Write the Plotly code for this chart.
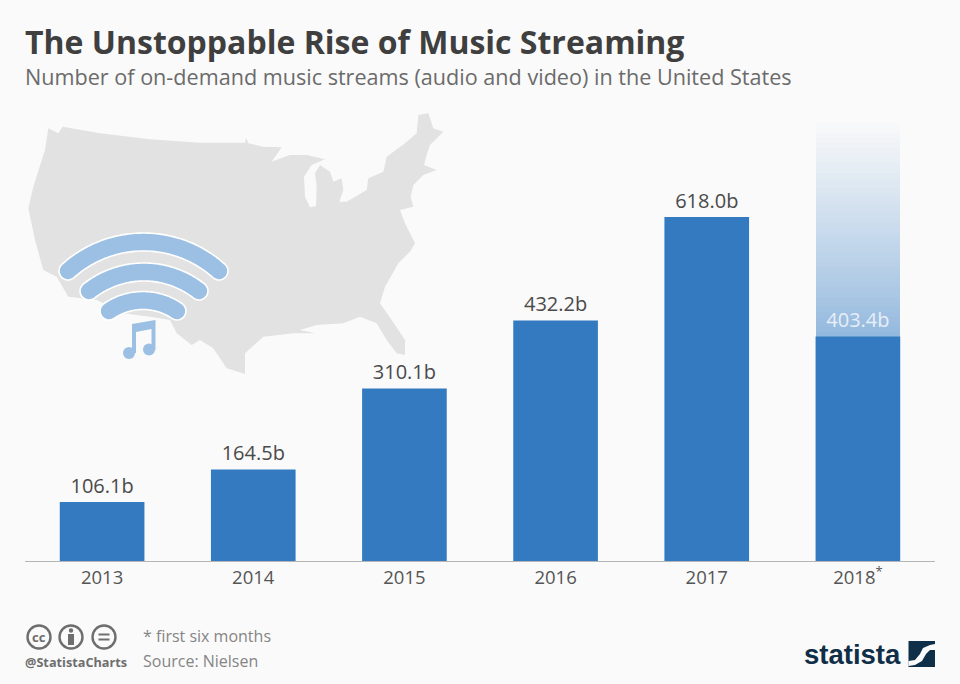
import numpy as np
import plotly.graph_objects as go

# ---- data ----
years = ["2013", "2014", "2015", "2016", "2017", "2018"]
tick_labels = ["2013", "2014", "2015", "2016", "2017", "2018<sup>*</sup>"]
streams = [106.1, 164.5, 310.1, 432.2, 618.0, 403.4]
value_labels = ["106.1b", "164.5b", "310.1b", "432.2b", "618.0b", "403.4b"]

# ---- decorative outlines, in 3x crop coordinates of the top-left panel ----
map_outline = [
    (145,85),(175,100),(188,80),(300,100),(450,118),(600,128),(735,128),(738,113),(745,130),(790,140),
    (845,142),(815,185),(835,178),(870,165),(920,165),(975,178),(935,195),(912,230),(915,290),(930,322),(948,318),
    (950,260),(945,220),(960,195),(990,215),(1000,245),(1025,235),(1030,270),(1018,305),(1040,305),(1100,270),
    (1105,235),(1150,215),(1160,170),(1215,130),(1250,100),(1255,45),(1285,40),(1300,85),(1330,95),(1290,135),
    (1280,165),(1272,195),(1310,210),(1270,225),(1240,255),(1232,290),(1240,320),(1200,330),(1215,370),(1225,390),
    (1245,430),(1230,455),(1195,490),(1155,560),(1140,610),(1175,660),(1215,720),(1215,765),(1190,760),(1160,720),
    (1130,670),(1080,650),(1030,670),(950,675),(900,690),(945,700),(880,700),(790,710),(735,760),(735,822),
    (680,805),(640,745),(600,720),(575,735),(530,700),(510,660),(450,650),(370,640),(290,600),(205,590),
    (170,530),(130,510),(105,420),(85,325),(100,260),(135,150),
]

W, H = 960, 684
def px(x): return x / W
def py(y): return 1 - y / H
def zoom_pt(p): return (p[0] / 3, 100 + p[1] / 3)

def poly_path(points):
    return "M " + " L ".join(f"{px(x):.5f},{py(y):.5f}" for x, y in points) + " Z"

def pix_rect(x0, y0, x1, y1, color, **kw):
    return dict(type="rect", xref="paper", yref="paper", x0=px(x0), x1=px(x1), y0=py(y0), y1=py(y1),
                fillcolor=color, line_width=0, layer="below", **kw)

def pix_circle(cx, cy, r, fill, line_color=None, line_width=0):
    return dict(type="circle", xref="paper", yref="paper", x0=px(cx-r), x1=px(cx+r), y0=py(cy-r), y1=py(cy+r),
                fillcolor=fill, line=dict(color=line_color or fill, width=line_width), layer="below")

def arc_poly(x_left, x_right, y_end, y_top, thick):
    """Band around a circular arc with round ends, in pixels."""
    cx = (x_left + x_right) / 2
    half = (x_right - x_left) / 2
    sag = y_end - y_top
    R = (half**2 + sag**2) / (2 * sag)
    cy = y_top + R
    a = np.arcsin(half / R)
    t = np.linspace(-a, a, 60)
    r1, r2 = R + thick / 2, R - thick / 2
    outer = [(cx + r1*np.sin(v), cy - r1*np.cos(v)) for v in t]
    inner = [(cx + r2*np.sin(v), cy - r2*np.cos(v)) for v in t[::-1]]
    endR = [(x_right + thick/2*np.sin(a + b), y_end - thick/2*np.cos(a + b)) for b in np.linspace(0, np.pi, 12)]
    endL = [(x_left + thick/2*np.sin(-a - b), y_end - thick/2*np.cos(-a - b)) for b in np.linspace(np.pi, 0, 12)]
    return outer + endR + inner + endL

BG = "#fafafa"
BAR = "#337ac0"
WIFI = "#9cc0e4"
GREY_ICON = "#6e6e6e"
shapes = []

# map
shapes.append(dict(type="path", xref="paper", yref="paper", path=poly_path([zoom_pt(p) for p in map_outline]),
                   fillcolor="#e2e2e2", line_width=0, layer="below"))

# wifi arcs
for xl, xr, ye, yt, th in [(68,219,271,242,18), (89,199,291,272,18), (109,177,311,300.5,18)]:
    shapes.append(dict(type="path", xref="paper", yref="paper", path=poly_path(arc_poly(xl, xr, ye, yt, th)),
                       fillcolor=WIFI, line=dict(color="#ffffff", width=1.6), layer="below"))

# music note
note = [(132,324),(155.5,320),(155.5,350),(151.5,350),(151.5,329),(136,332),(136,353),(132,353)]
shapes.append(dict(type="path", xref="paper", yref="paper", path=poly_path(note), fillcolor=WIFI, line_width=0, layer="below"))
shapes.append(pix_circle(129, 353, 6, WIFI))
shapes.append(pix_circle(149, 349.5, 6, WIFI))

# 2018 fading full-year bar
g_left, g_right, g_bottom, g_top = 816, 900, 337, 118
steps = 44
c0 = np.array([148, 185, 222]); c1 = np.array([250, 250, 250])
edges = np.linspace(g_bottom, g_top, steps + 1)
for i in range(steps):
    f = min(1, (i / (steps - 1)) ** 0.9)
    c = (c0 + (c1 - c0) * f).astype(int)
    shapes.append(pix_rect(g_left, edges[i], g_right, edges[i+1] - 0.6, f"rgb({c[0]},{c[1]},{c[2]})"))

# cc icons
for cx in (39, 71, 104):
    shapes.append(pix_circle(cx, 637, 11.5, "rgba(0,0,0,0)", GREY_ICON, 2.4))
shapes.append(pix_circle(71, 630.5, 2.2, GREY_ICON))
shapes.append(pix_rect(68, 634, 74, 645, GREY_ICON))
shapes.append(pix_rect(98.5, 633.5, 109.5, 635.5, GREY_ICON))
shapes.append(pix_rect(98.5, 638.5, 109.5, 640.5, GREY_ICON))

# statista mark
DARK = "#0f2e47"
shapes.append(pix_rect(908.5, 641, 935, 667, DARK))
swoosh = [(908.5,661),(915,660),(920,654),(923,648),(930,645),(935,644),(935,650),(930,650),(926,654),(922,661),(915,665),(908.5,666)]
shapes.append(dict(type="path", xref="paper", yref="paper", path=poly_path(swoosh), fillcolor=BG, line_width=0, layer="below"))

fig = go.Figure(go.Bar(
    x=years, y=streams, width=0.56, marker=dict(color=BAR, line_width=0),
    text=value_labels, textposition="outside", cliponaxis=False,
    textfont=dict(family="Open Sans", size=20,
                  color=["#4a4a4a"] * 5 + ["#e6eff8"]),
    hoverinfo="x+y",
))

def note_text(x, y, text, size, color, bold=False, anchor="left", family="Open Sans"):
    return dict(xref="paper", yref="paper", x=px(x), y=py(y), text=f"<b>{text}</b>" if bold else text,
                showarrow=False, xanchor=anchor, yanchor="middle", align="left",
                font=dict(family=family, size=size, color=color))

annotations = [
    note_text(23, 41, "The Unstoppable Rise of Music Streaming", 32, "#3f3f3f", bold=True),
    note_text(23, 76, "Number of on-demand music streams (audio and video) in the United States", 21.6, "#6b6b6b"),
    note_text(141, 636, "* first six months", 16, "#858585"),
    note_text(141, 661, "Source: Nielsen", 16, "#858585"),
    note_text(23, 662, "@StatistaCharts", 12.7, GREY_ICON, bold=True),
    note_text(39, 637, "cc", 13, GREY_ICON, bold=True, anchor="center"),
    note_text(802, 654, "statista", 27.5, DARK, bold=True, family="Liberation Sans"),
]

fig.update_layout(
    width=W, height=H, margin=dict(l=0, r=0, t=0, b=0), autosize=False,
    paper_bgcolor=BG, plot_bgcolor="rgba(0,0,0,0)", showlegend=False, bargap=0.44,
    font=dict(family="Open Sans"), shapes=shapes, annotations=annotations,
    xaxis=dict(domain=[25/W, 935/W], type="category", categoryorder="array", categoryarray=years,
               range=[-0.51, 5.51],
               tickmode="array", tickvals=years, ticktext=tick_labels, ticks="", showgrid=False,
               showline=True, linecolor="#b5b5b5", linewidth=1, zeroline=False,
               tickfont=dict(family="Open Sans", size=18.5, color="#555555")),
    yaxis=dict(domain=[1 - 561/H, 1 - 100/H], range=[0, 461/0.5566], visible=False, fixedrange=True),
)
fig.write_html("out.html", config=dict(displayModeBar=False), post_script="document.body.style.margin='0';")
